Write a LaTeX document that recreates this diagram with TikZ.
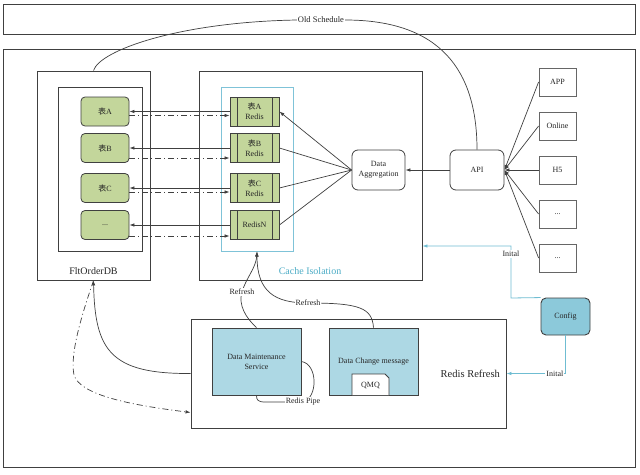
\documentclass[tikz,border=0pt]{standalone}
\usepackage{fontspec}
\setmainfont{Liberation Serif}
\newfontfamily\cjk{Noto Sans CJK SC}
\usetikzlibrary{arrows.meta,calc}
\definecolor{lineg}{HTML}{404040}
\definecolor{tgreen}{HTML}{C3D69B}
\definecolor{lblue}{HTML}{ADD8E4}
\definecolor{cfgblue}{HTML}{8CC9DA}
\definecolor{cbborder}{HTML}{7FC3D8}
\definecolor{cyanline}{HTML}{6FBDD2}
\definecolor{cyantext}{HTML}{4BACC6}
\definecolor{txt}{HTML}{262626}
\begin{document}
\begin{tikzpicture}[x=1pt,y=-1pt,
  font=\fontsize{8}{10}\selectfont, text=txt,
  frame/.style={draw=lineg, line width=0.9pt, inner sep=0pt},
  tbl/.style={draw=lineg, line width=0.8pt, fill=tgreen, rounded corners=4pt, minimum width=48pt, minimum height=29pt, inner sep=0pt},
  rds/.style={draw=lineg, line width=0.8pt, fill=tgreen, minimum width=49pt, minimum height=29pt, inner sep=0pt, align=center,
    path picture={\draw[lineg,line width=0.7pt] ([xshift=7pt]path picture bounding box.north west) -- ([xshift=7pt]path picture bounding box.south west);
                  \draw[lineg,line width=0.7pt] ([xshift=-7pt]path picture bounding box.north east) -- ([xshift=-7pt]path picture bounding box.south east);}},
  rbox/.style={draw=lineg, line width=0.8pt, rounded corners=6pt, minimum width=53pt, minimum height=40pt, inner sep=0pt, align=center},
  client/.style={draw=lineg!80, line width=0.8pt, minimum width=37pt, minimum height=28pt, inner sep=0pt},
  svc/.style={draw=lineg, line width=0.9pt, fill=lblue, minimum width=89pt, minimum height=67pt, inner sep=0pt, align=center},
  conn/.style={draw=lineg, line width=0.7pt},
  tip/.style={-{Latex[length=5pt,width=3.5pt]}},
  dd/.style={conn, dash pattern=on 6pt off 3pt on 1pt off 3pt},
  bline/.style={draw=cyanline, line width=0.8pt, -{Latex[length=5pt,width=3.5pt]}},
  lbl/.style={fill=white, inner sep=1pt, font=\fontsize{8}{9}\selectfont}
]
\fill[white] (0,0) rectangle (640,474);
\useasboundingbox (0,0) rectangle (640,474);

% frames
\node[frame, minimum width=632pt, minimum height=30pt] (top) at (319,19) {};
\node[frame, minimum width=632pt, minimum height=418pt] (main) at (319,258) {};
\node[frame, minimum width=113pt, minimum height=209pt] (dbo) at (93.5,175.5) {};
\node[frame, minimum width=84pt, minimum height=164pt] (dbi) at (100,169) {};
\node[frame, minimum width=223pt, minimum height=209pt] (cio) at (310.5,175.5) {};
\node[draw=cbborder, line width=1pt, minimum width=72pt, minimum height=164pt, inner sep=0pt] (cb) at (257,169) {};
\node[frame, minimum width=315pt, minimum height=109pt] (rr) at (348.5,373.5) {};

\node[font=\fontsize{10}{12}\selectfont] (dblabel) at (93.5,271) {FltOrderDB};
\node[font=\fontsize{10}{12}\selectfont, text=cyantext] (cilabel) at (310,271) {Cache Isolation};
\node[font=\fontsize{10.5}{12}\selectfont, anchor=east] (rrlabel) at ([xshift=-3pt]rr.east) {Redis Refresh};

% tables
\node[tbl] (tA) at (105,111.5) {{\cjk 表}A};
\node[tbl] (tB) at (105,148) {{\cjk 表}B};
\node[tbl] (tC) at (105,188) {{\cjk 表}C};
\node[tbl] (tN) at (105,225) {...};

% redis
\node[rds] (rA) at (254.5,111.5) {{\cjk 表}A\\Redis};
\node[rds] (rB) at (254.5,148) {{\cjk 表}B\\Redis};
\node[rds] (rC) at (254.5,188) {{\cjk 表}C\\Redis};
\node[rds] (rN) at (254.5,225) {RedisN};

% aggregation, api
\node[rbox] (agg) at (378.5,170) {Data\\Aggregation};
\node[rbox, minimum width=54pt] (api) at (477,170) {API};

% clients
\node[client] (app) at (557.5,82) {APP};
\node[client] (onl) at (557.5,126) {Online};
\node[client] (h5) at (557.5,170) {H5};
\node[client] (d1) at (557.5,214) {...};
\node[client] (d2) at (557.5,258) {...};

% config
\node[draw=lineg, line width=0.9pt, fill=cfgblue, rounded corners=5pt, minimum width=49pt, minimum height=37pt, inner sep=0pt] (cfg) at (565.5,316.5) {Config};

% services
\node[svc] (dms) at (256.5,361.5) {Data Maintenance\\Service};
\node[svc] (dcm) at (373.5,361.5) {};
\node (dcmtext) at (373.5,362) {Data Change message};
\draw[lineg, line width=0.8pt, fill=white] (352,395) -- (352,374) -- (385,374) -- (389,378) -- (389,395);
\node (qmq) at (370.5,385) {QMQ};

% table <-> redis arrows
\draw[conn,tip] (rA.west) -- (tA.east);
\draw[dd,tip] ([yshift=-4pt]tA.east) -- ([yshift=-4pt]rA.west);
\draw[conn,tip] (rB.west) -- (tB.east);
\draw[dd,tip] ([yshift=-10pt]tB.east) -- ([yshift=-10pt]rB.west);
\draw[conn,tip] (rC.west) -- (tC.east);
\draw[dd,tip] ([yshift=-4pt]tC.east) -- ([yshift=-4pt]rC.west);
\draw[conn,tip] (rN.west) -- (tN.east);
\draw[dd,tip] ([yshift=-11pt]tN.east) -- ([yshift=-11pt]rN.west);

% redis <- aggregation
\draw[conn,tip] (agg.west) -- (rA.east);
\draw[conn] (agg.west) -- (rB.east);
\draw[conn] (agg.west) -- (rC.east);
\draw[conn] (agg.west) -- (rN.east);
\draw[conn,tip] (api.west) -- (agg.east);

% api <- clients
\foreach \c in {app,onl,h5,d1,d2}{
  \draw[conn,{Latex[length=5pt,width=3.5pt]}-] (api.east) -- (\c.west);
}

% old schedule
\node[font=\fontsize{8.5}{10}\selectfont, inner sep=1pt] (os) at (321,20) {Old Schedule};
\draw[conn] (dbo.north) .. controls (100,50) and (180,22) .. (os.west);
\draw[conn] (os.east) .. controls (440,20) and (477,70) .. (api.north);

% refresh
\coordinate (r1) at (242,292);
\draw[conn,tip] (dms.north) .. controls (246,318) and (238,305) .. (r1) .. controls (246,278) and (256,268) .. (cb.south);
\node[lbl] (rf1) at (r1) {Refresh};
\coordinate (r2) at (308,303);
\draw[conn,tip] (dcm.north) .. controls (372,308) and (360,303) .. (r2) .. controls (275,303) and (257,292) .. (cb.south);
\node[lbl] (rf2) at (r2) {Refresh};

% redis pipe
\coordinate (r3) at (303,402);
\draw[conn] (dms.east) .. controls (318,364) and (318,398) .. (r3) -- (265,402) .. controls (258,402) and (256.5,400) .. (dms.south);
\node[lbl] (rp) at (r3) {Redis Pipe};

% bottom left
\draw[conn,tip] (rr.west) .. controls (110,374) and (95,350) .. (dbo.south);
\coordinate (dmid) at (74,375);
\draw[dd,tip] (dbo.south) .. controls (80,320) and (70,355) .. (dmid) .. controls (80,395) and (130,405) .. ([yshift=16pt]rr.south west);

% config lines
\coordinate (c1) at (511,298);
\coordinate (c2) at (511,246);
\draw[bline] (cfg.north west) -- (c1) -- node[lbl,pos=0.85] (in1) {Inital} (c2) -- (c2 -| cio.east);
\draw[bline] (cfg.south) |- node[lbl,pos=0.59] (in2) {Inital} (rr.east);
\end{tikzpicture}
\end{document}
